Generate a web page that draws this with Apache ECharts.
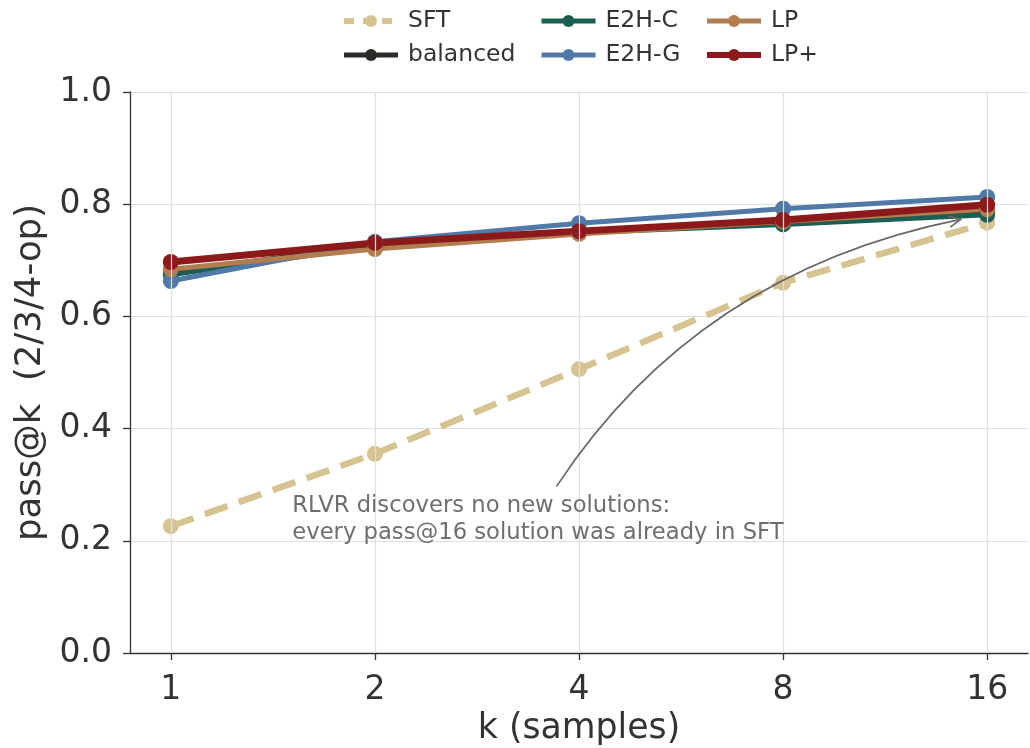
<!DOCTYPE html>
<html>
<head>
<meta charset="utf-8">
<script src="https://cdn.jsdelivr.net/npm/echarts@6/dist/echarts.min.js"></script>
<style>
  html, body { margin: 0; padding: 0; background: #fff; }
  #chart { width: 1030px; height: 748px; }
</style>
</head>
<body>
<div id="chart"></div>
<script>
// k values (log2 scale on the axis) and their tick labels
const kValues = [1, 2, 4, 8, 16];
const kLabels = ['1', '2', '4', '8', '16'];

const sft = [0.226, 0.355, 0.506, 0.660, 0.767];
const balanced = [0.679, 0.727, 0.750, 0.767, 0.787];
const e2hC = [0.674, 0.725, 0.749, 0.764, 0.781];
const e2hG = [0.663, 0.733, 0.766, 0.792, 0.813];
const lp = [0.684, 0.720, 0.747, 0.769, 0.791];
const lpPlus = [0.697, 0.731, 0.752, 0.772, 0.799];

const note = ['RLVR discovers no new solutions:', 'every pass@16 solution was already in SFT'];

const font = 'DejaVu Sans';
const toPts = vals => vals.map((v, i) => [Math.log2(kValues[i]), v]);
const tickPos = kValues.map(k => Math.log2(k));

const styles = {
  'SFT': { color: '#d5c391', width: 6.5, type: [24, 12] },
  'balanced': { color: '#2b2b28', width: 5, type: 'solid' },
  'E2H-C': { color: '#1b5e52', width: 5, type: 'solid' },
  'E2H-G': { color: '#5079a8', width: 5, type: 'solid' },
  'LP': { color: '#b27e50', width: 5, type: 'solid' },
  'LP+': { color: '#8c1a1a', width: 7, type: 'solid' }
};

function mkSeries(name, data) {
  const s = styles[name];
  return {
    name: name,
    type: 'line',
    data: toPts(data),
    symbol: 'circle',
    symbolSize: 16,
    lineStyle: { color: s.color, width: s.width, type: s.type, cap: 'butt' },
    itemStyle: { color: s.color },
    emphasis: { disabled: true },
    animation: false
  };
}

function legendItem(name) {
  const s = styles[name];
  return { name: name, lineStyle: { color: s.color, width: Math.min(s.width, 6), type: name === 'SFT' ? [10, 9] : 'solid' } };
}

const chart = echarts.init(document.getElementById('chart'));
const legendBase = {
  orient: 'vertical', itemWidth: 54, itemHeight: 15, itemGap: 10, top: 4,
  textStyle: { fontFamily: font, fontSize: 23.5, color: '#333', padding: [0, 0, 0, 5] },
  selectedMode: false
};

const option = {
  backgroundColor: '#fff',
  animation: false,
  legend: [
    Object.assign({ left: 336, data: ['SFT', 'balanced'].map(legendItem) }, legendBase),
    Object.assign({ left: 534, data: ['E2H-C', 'E2H-G'].map(legendItem) }, legendBase),
    Object.assign({ left: 699, data: ['LP', 'LP+'].map(legendItem) }, legendBase)
  ],
  grid: { left: 130, right: 2, top: 92, bottom: 95, outerBoundsMode: 'none' },
  xAxis: {
    type: 'value', min: -0.2, max: 4.2,
    name: 'k (samples)', nameLocation: 'middle', nameGap: 58,
    nameTextStyle: { fontFamily: font, fontSize: 34.7, color: '#333' },
    axisLine: { show: true, onZero: false, lineStyle: { color: '#333', width: 1.3 } },
    axisTick: { show: true, length: 7, customValues: tickPos, lineStyle: { color: '#333', width: 1.3 } },
    axisLabel: {
      customValues: tickPos, margin: 21, fontFamily: font, fontSize: 33, color: '#333',
      formatter: v => kLabels[tickPos.indexOf(v)]
    },
    splitLine: { show: false }
  },
  yAxis: {
    type: 'value', min: 0, max: 1, interval: 0.2,
    name: 'pass@k  (2/3/4-op)', nameLocation: 'middle', nameGap: 73,
    nameTextStyle: { fontFamily: font, fontSize: 35.5, color: '#333' },
    axisLine: { show: true, onZero: false, lineStyle: { color: '#333', width: 1.3 } },
    axisTick: { show: true, length: 7, lineStyle: { color: '#333', width: 1.3 } },
    axisLabel: { margin: 18, fontFamily: font, fontSize: 33, color: '#333', formatter: v => v.toFixed(1) },
    splitLine: { show: true, lineStyle: { color: '#dedede', width: 1.2 } }
  },
  series: ['SFT', 'balanced', 'E2H-C', 'E2H-G', 'LP', 'LP+'].map((n, i) =>
    mkSeries(n, [sft, balanced, e2hC, e2hG, lp, lpPlus][i]))
};
// vertical grid lines at the k ticks, drawn through the x scale
option.series[0].markLine = {
  silent: true, symbol: 'none', label: { show: false }, animation: false,
  lineStyle: { color: '#dedede', width: 1.2, type: 'solid' },
  data: tickPos.map(x => [{ coord: [x, 0] }, { coord: [x, 1] }])
};

chart.setOption(option);

// annotation arrow and text, placed in data coordinates
const p0 = chart.convertToPixel({ gridIndex: 0 }, [1.89, 0.297]);
const p2 = chart.convertToPixel({ gridIndex: 0 }, [3.87, 0.773]);
const c = chart.convertToPixel({ gridIndex: 0 }, [2.58, 0.679]);
const t = chart.convertToPixel({ gridIndex: 0 }, [0.595, 0.286]);
// arrowhead direction from control to tip
const ang = Math.atan2(p2[1] - c[1], p2[0] - c[0]);
const hl = 13, ha = 0.45;
chart.setOption({
  graphic: [
    {
      type: 'bezierCurve', silent: true, z: 50,
      shape: { x1: p0[0], y1: p0[1], x2: p2[0], y2: p2[1], cpx1: c[0], cpy1: c[1] },
      style: { stroke: '#666', lineWidth: 1.6, fill: null }
    },
    {
      type: 'polyline', silent: true, z: 50,
      shape: { points: [
        [p2[0] - hl * Math.cos(ang - ha), p2[1] - hl * Math.sin(ang - ha)],
        [p2[0], p2[1]],
        [p2[0] - hl * Math.cos(ang + ha), p2[1] - hl * Math.sin(ang + ha)]
      ] },
      style: { stroke: '#666', lineWidth: 1.6, fill: null }
    },
    {
      type: 'text', silent: true, z: 50, x: t[0], y: t[1],
      style: {
        text: note.join('\n'), fill: '#6e6e6e', font: '22.7px "DejaVu Sans"',
        lineHeight: 27, textVerticalAlign: 'top'
      }
    }
  ]
});
</script>
</body>
</html>
